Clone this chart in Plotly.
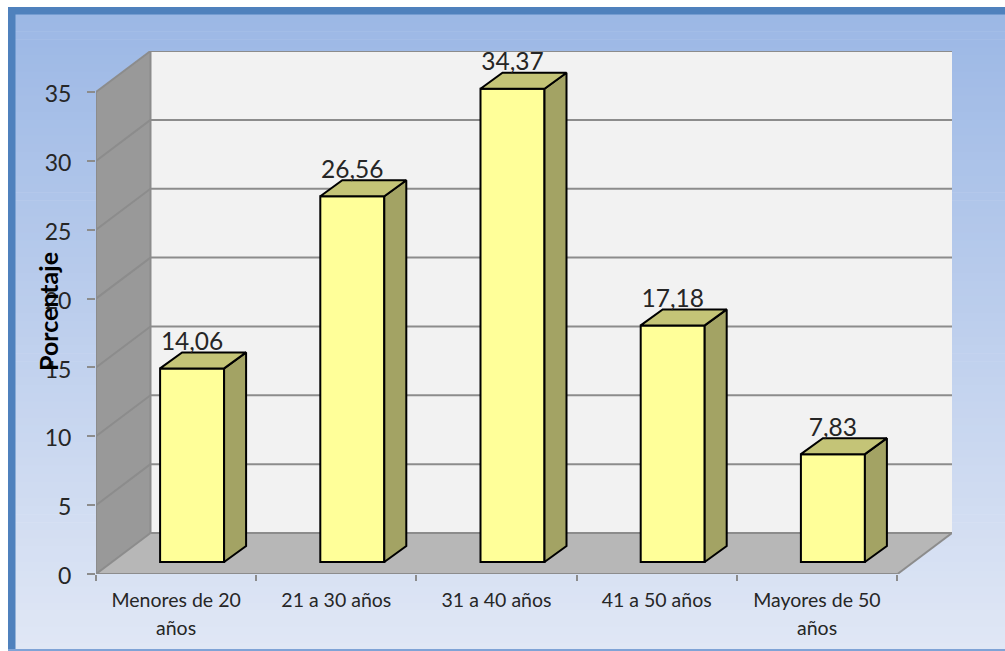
import plotly.graph_objects as go

categories = ["Menores de 20", "21 a 30 años", "31 a 40 años", "41 a 50 años", "Mayores de 50"]
second_lines = ["años", "", "", "", "años"]
values = [14.06, 26.56, 34.37, 17.18, 7.83]
value_labels = ["14,06", "26,56", "34,37", "17,18", "7,83"]
y_ticks = [0, 5, 10, 15, 20, 25, 30, 35]

W, H = 1005, 651
X0, X1, Y0, Y1 = 96, 952, 574, 51
PX_X = 160.2
PX_Y = 13.77
XMIN = -0.5
XMAX = XMIN + (X1 - X0) / PX_X
YMAX = (Y0 - Y1) / PX_Y
WALL_DX, WALL_DY = 54.5 / PX_X, 41 / PX_Y
BAR_OFF_X, BAR_OFF_Y = 16 / PX_X, 12 / PX_Y
BAR_DX, BAR_DY = 22 / PX_X, 16 / PX_Y
BAR_W = 64 / PX_X

GRID = "#8c8c8c"
xs = list(range(len(values)))
bar_x = [x + BAR_OFF_X for x in xs]

fig = go.Figure()


def poly(points):
    return "M " + " L ".join(f"{a},{b}" for a, b in points) + " Z"


shapes = []
# page background with vertical gradient
N = 80
top_c, bot_c = (155, 183, 229), (224, 231, 245)
for i in range(N):
    t = i / (N - 1)
    c = tuple(round(a + (b - a) * t) for a, b in zip(top_c, bot_c))
    shapes.append(dict(type="rect", xref="paper", yref="paper", layer="below",
                       x0=8 / W, x1=1, y0=1 - (7 + (H - 7) * (i + 1) / N) / H - 0.001,
                       y1=1 - (7 + (H - 7) * i / N) / H,
                       line_width=0, fillcolor=f"rgb{c}"))
# frame
frame = "#4f81bd"
shapes.append(dict(type="rect", xref="paper", yref="paper", layer="below", x0=8 / W, x1=1,
                   y0=1 - 14.5 / H, y1=1 - 7 / H, line_width=0, fillcolor=frame))
shapes.append(dict(type="rect", xref="paper", yref="paper", layer="below", x0=8 / W, x1=15.5 / W,
                   y0=0, y1=1 - 7 / H, line_width=0, fillcolor=frame))
shapes.append(dict(type="rect", xref="paper", yref="paper", layer="below", x0=8 / W, x1=1,
                   y0=0, y1=2 / H, line_width=0, fillcolor="#7fa3d6"))

xb0 = XMIN + WALL_DX
xb1 = XMAX
xf1 = XMAX - WALL_DX
# back wall, side wall, floor
shapes.append(dict(type="path", layer="below", xref="x", yref="y", line_width=0, fillcolor="#f2f2f2",
                   path=poly([(xb0, WALL_DY), (xb1, WALL_DY), (xb1, YMAX), (xb0, YMAX)])))
shapes.append(dict(type="path", layer="below", xref="x", yref="y", line_width=0, fillcolor="#999999",
                   path=poly([(XMIN, 0), (xb0, WALL_DY), (xb0, YMAX), (XMIN, YMAX - WALL_DY)])))
shapes.append(dict(type="path", layer="below", xref="x", yref="y", line_width=0, fillcolor="#b7b7b7",
                   path=poly([(XMIN, 0), (xf1, 0), (xb1, WALL_DY), (xb0, WALL_DY)])))


def seg(x0, y0, x1, y1):
    shapes.append(dict(type="line", layer="below", xref="x", yref="y", x0=x0, y0=y0, x1=x1, y1=y1,
                       line=dict(color=GRID, width=2)))


for t in y_ticks:
    seg(XMIN, t, xb0, t + WALL_DY)
    seg(xb0, t + WALL_DY, xb1, t + WALL_DY)
seg(XMIN, 0, XMIN, y_ticks[-1])
seg(xb0, WALL_DY, xb0, y_ticks[-1] + WALL_DY)
seg(XMIN, 0, xf1, 0)
seg(xf1, 0, xb1, WALL_DY)

# front faces
fig.add_trace(go.Bar(x=bar_x, y=values, base=[BAR_OFF_Y] * len(values), width=BAR_W,
                     marker=dict(color="#ffff99", line=dict(color="#000000", width=2)),
                     hoverinfo="skip", showlegend=False))
half = BAR_W / 2
for x, v in zip(bar_x, values):
    lo, hi = BAR_OFF_Y, BAR_OFF_Y + v
    r, l = x + half, x - half
    fig.add_trace(go.Scatter(x=[r, r + BAR_DX, r + BAR_DX, r, r], y=[lo, lo + BAR_DY, hi + BAR_DY, hi, lo],
                             mode="lines", fill="toself", fillcolor="#a3a364",
                             line=dict(color="#000000", width=2), hoverinfo="skip", showlegend=False))
    fig.add_trace(go.Scatter(x=[l, l + BAR_DX, r + BAR_DX, r, l], y=[hi, hi + BAR_DY, hi + BAR_DY, hi, hi],
                             mode="lines", fill="toself", fillcolor="#c4c477",
                             line=dict(color="#000000", width=2), hoverinfo="skip", showlegend=False))

fig.add_trace(go.Scatter(x=bar_x, y=[v + BAR_OFF_Y + 24.5 / PX_Y for v in values], text=value_labels,
                         mode="text", textposition="middle center",
                         textfont=dict(family="Lato", size=24.5, color="#262626"),
                         cliponaxis=False, hoverinfo="skip", showlegend=False))

annotations = [dict(x=x, y=0, xref="x", yref="y", yshift=-53, text=t, showarrow=False,
                    font=dict(family="Lato", size=19.5, color="#262626"))
               for x, t in zip(xs, second_lines) if t]
annotations.append(dict(x=48 / W, y=1 - 312 / H, xref="paper", yref="paper", text="<b>Porcentaje</b>",
                        textangle=-90, showarrow=False, xanchor="center", yanchor="middle",
                        font=dict(family="Lato", size=25, color="#000000")))

fig.update_layout(
    width=W, height=H, margin=dict(l=0, r=0, t=0, b=0), paper_bgcolor="white", plot_bgcolor="rgba(0,0,0,0)",
    shapes=shapes, annotations=annotations, showlegend=False, barmode="overlay",
    font=dict(family="Lato", color="#262626"),
    xaxis=dict(domain=[X0 / W, X1 / W], range=[XMIN, XMAX], tickmode="array", tickvals=xs, ticktext=categories,
               automargin=False, showgrid=False, zeroline=False, showline=False, ticks="", ticklen=0,
               tickfont=dict(family="Lato", size=19.5, color="#262626"), ticklabelstandoff=12,
               minor=dict(tickmode="array", tickvals=[i - 0.5 for i in range(len(values) + 1)],
                          ticks="outside", ticklen=6, tickwidth=2, tickcolor=GRID, showgrid=False)),
    yaxis=dict(domain=[1 - Y0 / H, 1 - Y1 / H], range=[0, YMAX], tickmode="array", tickvals=y_ticks,
               automargin=False, showgrid=False, zeroline=False, showline=False, ticks="outside", ticklen=8,
               tickwidth=2, tickcolor=GRID, tickfont=dict(family="Lato", size=23, color="#262626"),
               ticklabelstandoff=11, ticklabelshift=2),
)

fig.write_html("out.html", config={"displayModeBar": False},
               post_script="document.body.style.margin='0';document.body.style.overflow='hidden';")
